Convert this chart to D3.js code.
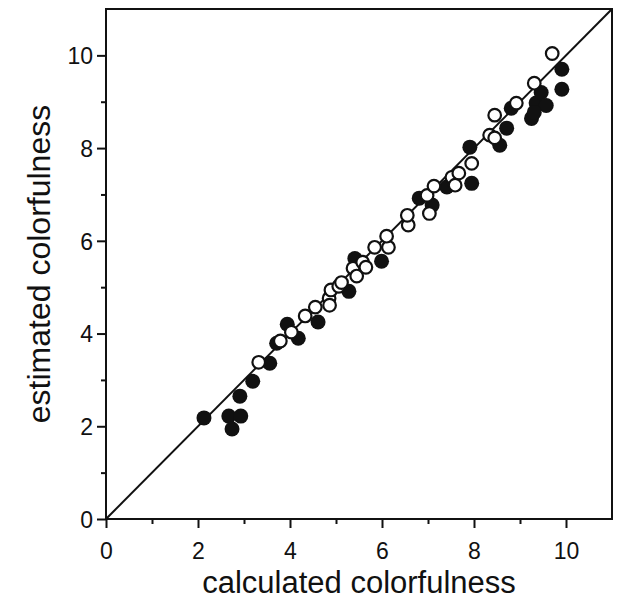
<!DOCTYPE html>
<html><head><meta charset="utf-8">
<script src="https://cdn.jsdelivr.net/npm/d3@7"></script>
<style>body{margin:0;background:#fff}svg{display:block}</style>
</head><body>
<svg id="c" width="631" height="600"></svg>
<script>
// Data: [calculated, estimated]
const filledPoints = [
  [2.13,2.18],[2.67,2.22],[2.93,2.22],[2.74,1.94],[2.91,2.65],[3.19,2.97],
  [3.56,3.36],[3.71,3.79],[3.94,4.20],[4.18,3.90],[4.61,4.25],[5.28,4.91],
  [5.41,5.62],[5.99,5.56],[6.81,6.92],[7.09,6.77],[7.41,7.16],[7.95,7.24],
  [7.91,8.02],[8.56,8.06],[8.71,8.43],[8.81,8.86],[9.35,8.97],[9.46,9.20],
  [9.57,8.92],[9.25,8.64],[9.31,8.77],[9.91,9.70],[9.91,9.27]
];
const openPoints = [
  [3.32,3.38],[3.79,3.84],[4.03,4.03],[4.33,4.38],[4.55,4.57],[4.85,4.76],
  [4.86,4.61],[4.89,4.94],[5.06,5.02],[5.12,5.10],[5.37,5.41],[5.45,5.24],
  [5.58,5.54],[5.65,5.43],[5.84,5.86],[6.14,5.86],[6.10,6.10],[6.57,6.34],
  [6.55,6.55],[6.98,6.98],[7.13,7.18],[7.03,6.59],[7.52,7.37],[7.67,7.46],
  [7.59,7.20],[7.95,7.67],[8.34,8.28],[8.45,8.22],[8.45,8.71],[8.92,8.97],
  [9.31,9.40],[9.70,10.04]
];
const majorTicks = [0,2,4,6,8,10];
const minorTicks = [1,3,5,7,9];
const xTitle = "calculated colorfulness";
const yTitle = "estimated colorfulness";

const svg = d3.select("#c");
const L = 106, R = 612, T = 9, B = 519;
const x = d3.scaleLinear().domain([0,11]).range([L,R]);
const y = d3.scaleLinear().domain([0,11]).range([B,T]);
const font = "'Liberation Sans', Arial, Helvetica, sans-serif";

// frame
svg.append("rect").attr("x",L).attr("y",T).attr("width",R-L).attr("height",B-T)
  .attr("fill","none").attr("stroke","#111").attr("stroke-width",2);

// axes
const xMaj = d3.axisBottom(x).tickValues(majorTicks).tickSize(9).tickFormat(d3.format("d"));
const xMin = d3.axisBottom(x).tickValues(minorTicks).tickSize(5).tickFormat("");
const yMaj = d3.axisLeft(y).tickValues(majorTicks).tickSize(9).tickFormat(d3.format("d"));
const yMin = d3.axisLeft(y).tickValues(minorTicks).tickSize(5).tickFormat("");

function style(g){
  g.select(".domain").remove();
  g.selectAll(".tick line").attr("stroke","#111").attr("stroke-width",2);
  g.selectAll(".tick text").attr("fill","#111").style("font-family",font).style("font-size","23px");
}
svg.append("g").attr("transform",`translate(0,${B})`).call(xMaj).call(style)
  .selectAll(".tick text").attr("y",40).attr("dy",0);
svg.append("g").attr("transform",`translate(0,${B})`).call(xMin).call(style);
svg.append("g").attr("transform",`translate(${L},0)`).call(yMaj).call(style)
  .selectAll(".tick text").attr("x",-13).attr("dy","0.36em");
svg.append("g").attr("transform",`translate(${L},0)`).call(yMin).call(style);

// diagonal
svg.append("line").attr("x1",x(0)).attr("y1",y(0)).attr("x2",x(11)).attr("y2",y(11))
  .attr("stroke","#111").attr("stroke-width",2);

// points
svg.append("g").selectAll("circle").data(filledPoints).join("circle")
  .attr("cx",d=>x(d[0])).attr("cy",d=>y(d[1])).attr("r",7.5).attr("fill","#111");
svg.append("g").selectAll("circle").data(openPoints).join("circle")
  .attr("cx",d=>x(d[0])).attr("cy",d=>y(d[1])).attr("r",6.3)
  .attr("fill","#fff").attr("stroke","#111").attr("stroke-width",2.2);

// titles
svg.append("text").attr("x",(L+R)/2).attr("y",593).attr("text-anchor","middle")
  .style("font-family",font).style("font-size","31px").attr("fill","#111").text(xTitle);
svg.append("text").attr("transform",`translate(50,${(T+B)/2}) rotate(-90)`).attr("text-anchor","middle")
  .style("font-family",font).style("font-size","32px").attr("fill","#111").text(yTitle);
</script>
</body></html>
